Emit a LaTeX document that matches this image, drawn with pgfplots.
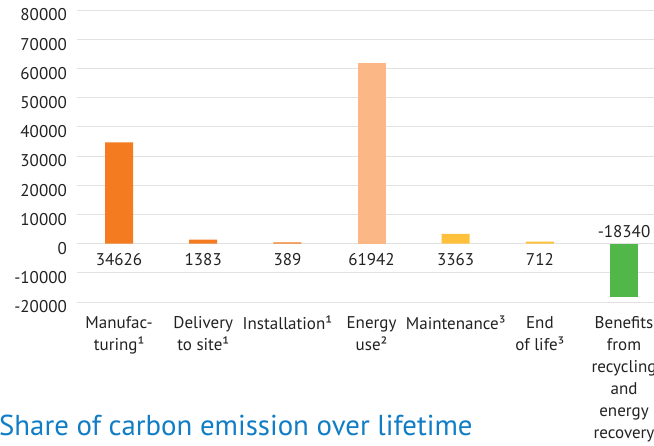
\documentclass[border=0pt]{standalone}
\usepackage{fontspec}
\setmainfont{PT Sans}
\usepackage{pgfplots}
\pgfplotsset{compat=1.18}
\definecolor{orng}{HTML}{F47B20}
\definecolor{peach}{HTML}{FBB886}
\definecolor{yel}{HTML}{FFC13B}
\definecolor{grn}{HTML}{50B748}
\definecolor{titleblue}{HTML}{117DC4}
\definecolor{gridc}{HTML}{E2E2E2}
\definecolor{txt}{HTML}{222222}
\begin{document}
\begin{tikzpicture}[x=1pt,y=1pt]
\begin{axis}[
  at={(77pt,144pt)}, anchor=south west,
  scale only axis, width=577pt, height=292pt,
  xmin=-0.5, xmax=6.356, ymin=-20000, ymax=80000,
  ytick={-20000,-10000,...,80000},
  scaled y ticks=false,
  ymajorgrids, grid style={color=gridc, line width=0.8pt},
  axis line style={draw=none},
  major tick length=0pt,
  xtick={0,...,6},
  xticklabels={{Manufac-\\turing¹},{Delivery\\to site¹},{Installation¹},{Energy\\use²},{Maintenance³},{End\\of life³},{Benefits\\from\\recycling\\and\\energy\\recovery}},
  /pgf/number format/assume math mode=true,
  /pgf/number format/1000 sep={},
  yticklabel style={font=\fontsize{17}{20}\selectfont, text=txt, anchor=east, inner sep=0pt, xshift=-10pt, yshift=-5pt},
  xticklabel style={font=\fontsize{17}{22}\selectfont, text=txt, align=center, anchor=north, inner sep=0pt, yshift=-14pt},
  clip=false,
]
\addplot[ybar, bar width=28pt, bar shift=0pt, fill=orng, draw=none] coordinates {(0,34626) (1,1383) (2,389)};
\addplot[ybar, bar width=28pt, bar shift=0pt, fill=peach, draw=none] coordinates {(3,61942)};
\addplot[ybar, bar width=28pt, bar shift=0pt, fill=yel, draw=none] coordinates {(4,3363) (5,712)};
\addplot[ybar, bar width=28pt, bar shift=0pt, fill=grn, draw=none] coordinates {(6,-18340)};
\addplot[draw=none, mark=none, nodes near coords, point meta=explicit symbolic,
  every node near coord/.append style={anchor=center, font=\fontsize{17}{20}\selectfont, text=txt, inner sep=0pt}]
  coordinates {(0,-5480)[34626] (1,-5480)[1383] (2,-5480)[389] (3,-5480)[61942] (4,-5480)[3363] (5,-5480)[712] (6,4100)[-18340]};
\end{axis}
\node[anchor=base west, font=\fontsize{28.8}{30}\selectfont, text=titleblue, inner sep=0pt] at (-1,10) {Share of carbon emission over lifetime};
\pgfresetboundingbox
\path[use as bounding box] (0,0) rectangle (654,446);
\end{tikzpicture}
\end{document}
